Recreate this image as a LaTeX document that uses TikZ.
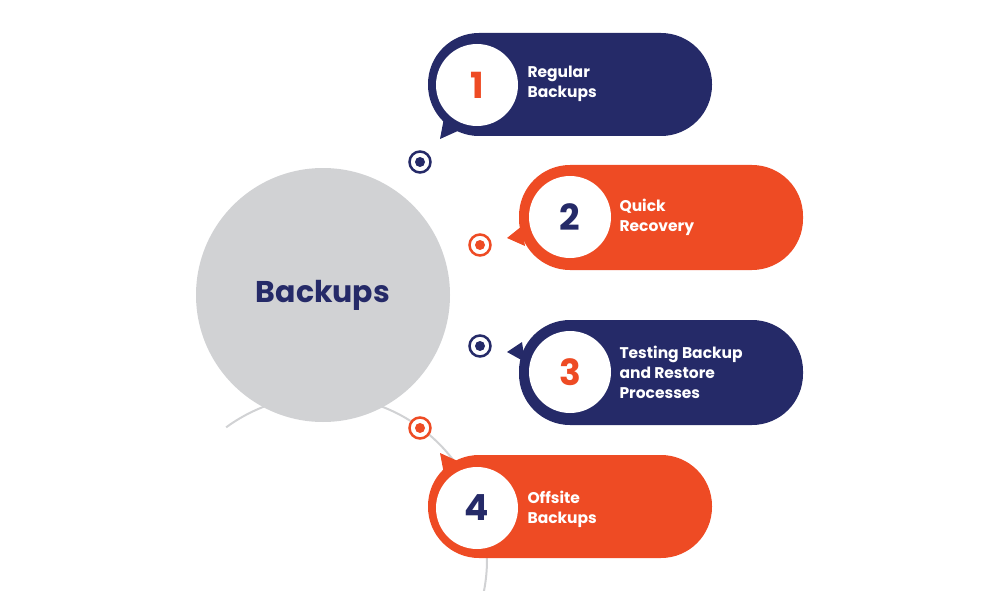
\documentclass[tikz,border=0pt]{standalone}
\usepackage{fontspec}
\setmainfont{Poppins}
\definecolor{navy}{HTML}{252A68}
\definecolor{orng}{HTML}{EE4B24}
\definecolor{lgray}{HTML}{D1D2D4}
\begin{document}
\begin{tikzpicture}[x=1pt,y=-1pt,
  pill/.style={rounded corners=51pt},
  numc/.style={circle,fill=white,minimum size=82pt,inner sep=0pt,font=\bfseries\fontsize{36}{36}\selectfont},
  lab/.style={anchor=west,align=left,text=white,font=\bfseries\fontsize{15.5}{20}\selectfont},
  dotring/.style={circle,draw=#1,line width=2.5pt,fill=white,minimum size=21pt,inner sep=0pt},
  dotin/.style={circle,fill=#1,minimum size=10pt,inner sep=0pt}]
\useasboundingbox (0,0) rectangle (1004,591);
% arc
\draw[lgray,line width=2pt] (323,295) ++(126.2:164) arc[start angle=-126.2,end angle=126.2,radius=164,x radius=164,y radius=164];
\node[circle,fill=lgray,minimum size=254pt,inner sep=0pt,text=navy,font=\bfseries\fontsize{30}{30}\selectfont] (c) at (323,295) {Backups};
% pills
\fill[navy] (440,139) -- (444,118) -- (460,130) -- cycle;
\fill[navy,pill] (428,33) rectangle (712,136);
\fill[orng] (507,238) -- (522,226) -- (525,246) -- cycle;
\fill[orng,pill] (519,165) rectangle (803,270);
\fill[navy] (507,352) -- (522,342) -- (525,362) -- cycle;
\fill[navy,pill] (519,320) rectangle (803,425);
\fill[orng] (440,453) -- (444,474) -- (460,462) -- cycle;
\fill[orng,pill] (428,455) rectangle (712,558);
\node[numc,text=orng] (n1) at (477,85) {1};
\node[numc,text=navy] (n2) at (570,217) {2};
\node[numc,text=orng] (n3) at (570,372) {3};
\node[numc,text=navy] (n4) at (477,508) {4};
\node[lab] (l1) at (524,84) {Regular\\Backups};
\node[lab] (l2) at (616,217) {Quick\\Recovery};
\node[lab] (l3) at (616,372) {Testing Backup\\and Restore\\Processes};
\node[lab] (l4) at (524,509) {Offsite\\Backups};
% dots
\node[dotring=navy] (d1) at (420,162) {}; \node[dotin=navy] at (d1) {};
\node[dotring=orng] (d2) at (480,245) {}; \node[dotin=orng] at (d2) {};
\node[dotring=navy] (d3) at (480,346) {}; \node[dotin=navy] at (d3) {};
\node[dotring=orng] (d4) at (420,428) {}; \node[dotin=orng] at (d4) {};
\end{tikzpicture}
\end{document}
